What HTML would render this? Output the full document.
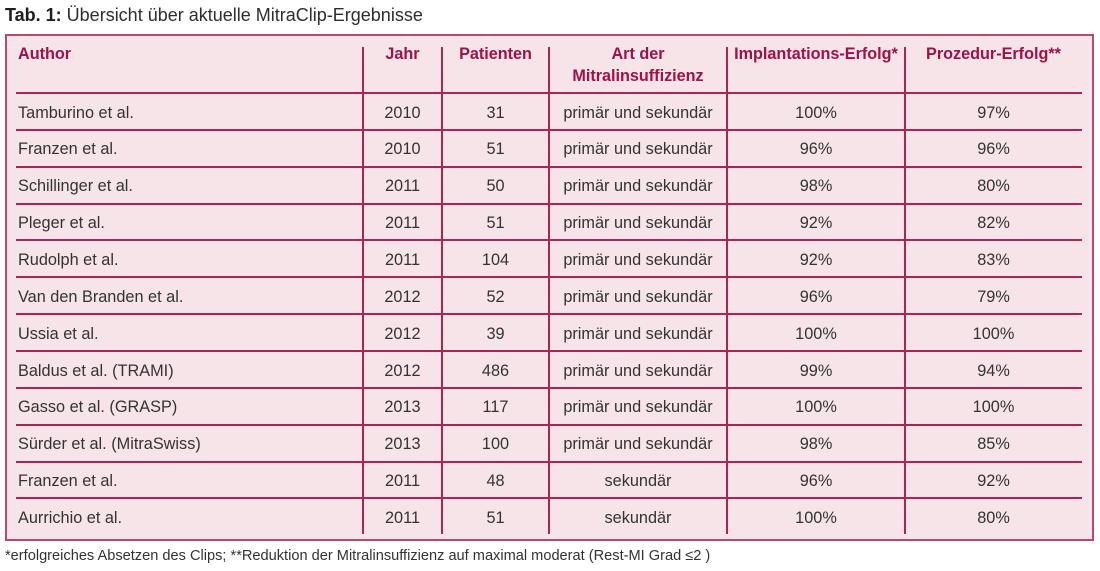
<!DOCTYPE html>
<html><head><meta charset="utf-8">
<style>
html,body{margin:0;padding:0;background:#fff;}
body{width:1100px;height:571px;position:relative;overflow:hidden;font-family:"Liberation Sans",sans-serif;}
.title{position:absolute;left:5px;top:5px;font-size:18px;color:#2e2e2e;white-space:nowrap;}
.title b{color:#1e1e1e;}
.box{position:absolute;left:5px;top:34px;width:1085px;height:503px;background:#f6e4e8;border:2px solid #b84a70;}
.h{position:absolute;height:2px;background:#ab2458;left:16px;width:1066px;}
.v{position:absolute;width:2px;background:#ab2458;top:47px;height:487px;}
.th{position:absolute;font-weight:bold;color:#9e1149;font-size:16.2px;line-height:22px;white-space:nowrap;}
.c{text-align:center;}
.td{position:absolute;font-size:16.3px;color:#333;white-space:nowrap;line-height:20px;}
.foot{position:absolute;left:5px;top:548px;font-size:14.6px;color:#333;white-space:nowrap;}
</style></head><body>
<div class="title"><b>Tab. 1:</b> Übersicht über aktuelle MitraClip-Ergebnisse</div>
<div class="box"></div>

<div class="v" style="left:362px"></div>
<div class="v" style="left:441px"></div>
<div class="v" style="left:548px"></div>
<div class="v" style="left:726px"></div>
<div class="v" style="left:904px"></div>

<div class="th" style="left:18px;top:43px">Author</div>
<div class="th c" style="left:363px;width:79px;top:43px">Jahr</div>
<div class="th c" style="left:442px;width:107px;top:43px">Patienten</div>
<div class="th c" style="left:549px;width:178px;top:43px">Art der<br>Mitralinsuffizienz</div>
<div class="th c" style="left:727px;width:178px;top:43px">Implantations-Erfolg*</div>
<div class="th c" style="left:905px;width:177px;top:43px">Prozedur-Erfolg**</div>

<div id="rows"></div>
<script>
var data=[
["Tamburino et al.","2010","31","primär und sekundär","100%","97%"],
["Franzen et al.","2010","51","primär und sekundär","96%","96%"],
["Schillinger et al.","2011","50","primär und sekundär","98%","80%"],
["Pleger et al.","2011","51","primär und sekundär","92%","82%"],
["Rudolph et al.","2011","104","primär und sekundär","92%","83%"],
["Van den Branden et al.","2012","52","primär und sekundär","96%","79%"],
["Ussia et al.","2012","39","primär und sekundär","100%","100%"],
["Baldus et al. (TRAMI)","2012","486","primär und sekundär","99%","94%"],
["Gasso et al. (GRASP)","2013","117","primär und sekundär","100%","100%"],
["Sürder et al. (MitraSwiss)","2013","100","primär und sekundär","98%","85%"],
["Franzen et al.","2011","48","sekundär","96%","92%"],
["Aurrichio et al.","2011","51","sekundär","100%","80%"]
];
var cols=[[18,0,false],[363,79,true],[442,107,true],[549,178,true],[727,178,true],[905,177,true]];
var h="";
for(var i=0;i<data.length;i++){
  var y=93+36.85*i;
  h+='<div class="h" style="top:'+Math.round(y-1)+'px"></div>';
  var ty=Math.round(y+18.6-10+1);
  for(var j=0;j<6;j++){
    var c=cols[j];
    if(c[2]) h+='<div class="td c" style="left:'+c[0]+'px;width:'+c[1]+'px;top:'+ty+'px">'+data[i][j]+'</div>';
    else h+='<div class="td" style="left:'+c[0]+'px;top:'+ty+'px">'+data[i][j]+'</div>';
  }
}
document.getElementById("rows").innerHTML=h;
</script>

<div class="foot">*erfolgreiches Absetzen des Clips; **Reduktion der Mitralinsuffizienz auf maximal moderat (Rest-MI Grad ≤2 )</div>
</body></html>
